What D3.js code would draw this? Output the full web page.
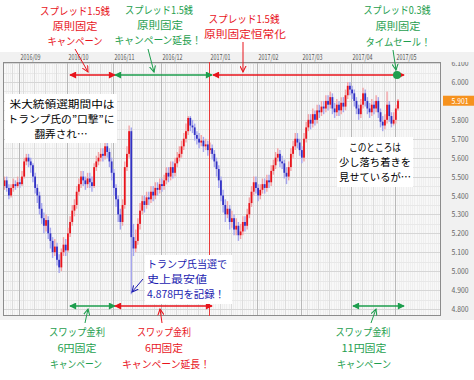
<!DOCTYPE html>
<html>
<head>
<meta charset="utf-8">
<script src="https://cdn.jsdelivr.net/npm/d3@7"></script>
<style>
body { margin: 0; background: #fff; }
svg { display: block; }
text { font-family: "Noto Sans CJK JP", "Noto Sans", sans-serif; }
</style>
</head>
<body>
<div id="chart"></div>
<script>
// daily MXN/JPY candles, 2016/08/23 - 2017/05/02 (open = previous close)
var firstOpen = 5.45;
var closes = [
	5.48, 5.44, 5.40, 5.44, 5.46, 5.45, 5.47, 5.46, 5.50, 5.58,
	5.60, 5.58, 5.56, 5.50, 5.44, 5.40, 5.33, 5.28, 5.24, 5.27,
	5.20, 5.16, 5.10, 5.13, 5.06, 5.02, 5.10, 5.14, 5.11, 5.20,
	5.26, 5.32, 5.35, 5.42, 5.46, 5.50, 5.48, 5.46, 5.49, 5.47,
	5.45, 5.55, 5.58, 5.60, 5.62, 5.61, 5.66, 5.63, 5.58, 5.52,
	5.44, 5.38, 5.30, 5.26, 5.35, 5.55, 5.62, 5.74, 5.18, 5.12,
	5.16, 5.25, 5.32, 5.37, 5.35, 5.39, 5.38, 5.42, 5.40, 5.44,
	5.43, 5.46, 5.45, 5.48, 5.52, 5.50, 5.55, 5.52, 5.57, 5.60,
	5.62, 5.66, 5.70, 5.74, 5.81, 5.77, 5.76, 5.72, 5.70, 5.68,
	5.69, 5.66, 5.67, 5.64, 5.65, 5.62, 5.58, 5.54, 5.48, 5.40,
	5.35, 5.30, 5.33, 5.26, 5.28, 5.22, 5.24, 5.19, 5.21, 5.26,
	5.24, 5.30, 5.36, 5.42, 5.47, 5.44, 5.40, 5.43, 5.46, 5.44,
	5.48, 5.47, 5.53, 5.56, 5.60, 5.62, 5.58, 5.57, 5.52, 5.50,
	5.55, 5.62, 5.66, 5.70, 5.68, 5.64, 5.60, 5.70, 5.76, 5.80,
	5.78, 5.83, 5.80, 5.85, 5.84, 5.87, 5.86, 5.90, 5.88, 5.92,
	5.86, 5.84, 5.88, 5.85, 5.89, 5.87, 5.93, 5.98, 5.96, 5.94,
	5.90, 5.86, 5.83, 5.88, 5.94, 5.90, 5.86, 5.84, 5.88, 5.86,
	5.90, 5.84, 5.79, 5.77, 5.80, 5.88, 5.82, 5.78, 5.80, 5.86,
	5.901
];
var highs = [
	5.50, 5.50, 5.46, 5.46, 5.49, 5.48, 5.50, 5.49, 5.53, 5.60,
	5.62, 5.62, 5.60, 5.57, 5.52, 5.46, 5.42, 5.36, 5.31, 5.30,
	5.29, 5.23, 5.18, 5.17, 5.15, 5.09, 5.12, 5.18, 5.17, 5.23,
	5.29, 5.35, 5.38, 5.45, 5.49, 5.53, 5.53, 5.50, 5.52, 5.52,
	5.50, 5.57, 5.61, 5.63, 5.65, 5.65, 5.68, 5.69, 5.65, 5.60,
	5.54, 5.46, 5.40, 5.33, 5.38, 5.58, 5.66, 5.77, 5.76, 5.25,
	5.22, 5.28, 5.36, 5.40, 5.40, 5.42, 5.42, 5.45, 5.45, 5.47,
	5.47, 5.49, 5.49, 5.51, 5.55, 5.55, 5.58, 5.58, 5.60, 5.63,
	5.66, 5.69, 5.73, 5.78, 5.82, 5.82, 5.80, 5.78, 5.74, 5.73,
	5.72, 5.71, 5.70, 5.69, 5.68, 5.67, 5.64, 5.60, 5.56, 5.50,
	5.43, 5.38, 5.37, 5.35, 5.32, 5.30, 5.28, 5.26, 5.25, 5.29,
	5.29, 5.33, 5.39, 5.45, 5.50, 5.50, 5.46, 5.46, 5.49, 5.49,
	5.51, 5.51, 5.56, 5.59, 5.63, 5.65, 5.64, 5.61, 5.59, 5.55,
	5.58, 5.65, 5.69, 5.73, 5.73, 5.70, 5.66, 5.73, 5.79, 5.83,
	5.83, 5.86, 5.85, 5.88, 5.88, 5.90, 5.90, 5.93, 5.93, 5.95,
	5.94, 5.89, 5.91, 5.90, 5.92, 5.92, 5.96, 6.00, 6.00, 5.98,
	5.96, 5.92, 5.88, 5.91, 5.97, 5.96, 5.92, 5.89, 5.91, 5.90,
	5.93, 5.92, 5.86, 5.82, 5.83, 5.95, 5.90, 5.84, 5.84, 5.88,
	5.91
];
var lows = [
	5.43, 5.42, 5.38, 5.39, 5.42, 5.43, 5.44, 5.44, 5.45, 5.49,
	5.56, 5.55, 5.52, 5.47, 5.41, 5.36, 5.30, 5.25, 5.20, 5.21,
	5.17, 5.12, 5.07, 5.08, 5.03, 4.99, 5.00, 5.08, 5.08, 5.10,
	5.18, 5.24, 5.29, 5.33, 5.40, 5.44, 5.45, 5.43, 5.44, 5.44,
	5.42, 5.44, 5.53, 5.56, 5.58, 5.58, 5.59, 5.60, 5.55, 5.48,
	5.40, 5.34, 5.26, 5.22, 5.24, 5.33, 5.53, 5.60, 4.878, 5.08,
	5.10, 5.14, 5.22, 5.30, 5.31, 5.33, 5.35, 5.36, 5.37, 5.38,
	5.40, 5.41, 5.42, 5.43, 5.46, 5.47, 5.48, 5.49, 5.50, 5.55,
	5.58, 5.60, 5.64, 5.68, 5.72, 5.74, 5.73, 5.69, 5.67, 5.65,
	5.66, 5.63, 5.64, 5.61, 5.62, 5.59, 5.55, 5.50, 5.44, 5.37,
	5.31, 5.26, 5.28, 5.22, 5.23, 5.19, 5.19, 5.16, 5.17, 5.19,
	5.21, 5.22, 5.28, 5.34, 5.40, 5.41, 5.37, 5.38, 5.41, 5.41,
	5.42, 5.44, 5.45, 5.51, 5.54, 5.58, 5.55, 5.54, 5.49, 5.46,
	5.48, 5.53, 5.60, 5.64, 5.65, 5.61, 5.57, 5.58, 5.68, 5.74,
	5.75, 5.76, 5.77, 5.78, 5.81, 5.82, 5.83, 5.84, 5.85, 5.86,
	5.83, 5.81, 5.82, 5.82, 5.83, 5.84, 5.85, 5.91, 5.93, 5.91,
	5.87, 5.83, 5.80, 5.81, 5.86, 5.87, 5.83, 5.81, 5.82, 5.83,
	5.84, 5.81, 5.76, 5.74, 5.75, 5.78, 5.79, 5.76, 5.77, 5.78,
	5.85
];
var firstDay = new Date(2016, 7, 23),
	endDay = new Date(2017, 4, 3);
var yTicks = [4.8, 4.9, 5.0, 5.1, 5.2, 5.3, 5.4, 5.5, 5.6, 5.7, 5.8, 5.9, 6.0, 6.1];
var lastPrice = 5.901;

var RED = '#e8141c', GREEN = '#1e9e4e', BLUE = '#1c1cb0';

var W = 474, H = 380;
var plot = {left: 3, right: 441, top: 62, bottom: 316};

var svg = d3.select('#chart').append('svg')
	.attr('width', W)
	.attr('height', H);

var defs = svg.append('defs');
defs.append('clipPath').attr('id', 'plotClip')
	.append('rect')
	.attr('x', plot.left).attr('y', plot.top)
	.attr('width', plot.right - plot.left).attr('height', plot.bottom - plot.top);
defs.append('clipPath').attr('id', 'axisClip')
	.append('rect')
	.attr('x', plot.right).attr('y', plot.top)
	.attr('width', W - plot.right).attr('height', H - plot.top);

[['r', RED], ['g', GREEN], ['b', BLUE]].forEach(function(c) {
	defs.append('marker')
		.attr('id', 'fill-' + c[0])
		.attr('viewBox', '0 0 8 8')
		.attr('refX', 7).attr('refY', 4)
		.attr('markerWidth', 8).attr('markerHeight', 7)
		.attr('markerUnits', 'userSpaceOnUse')
		.attr('orient', 'auto-start-reverse')
		.append('path')
		.attr('d', 'M0,0 L8,4 L0,8 Z')
		.attr('fill', c[1]);
	defs.append('marker')
		.attr('id', 'open-' + c[0])
		.attr('viewBox', '0 0 8 8')
		.attr('refX', 7).attr('refY', 4)
		.attr('markerWidth', 7).attr('markerHeight', 7)
		.attr('markerUnits', 'userSpaceOnUse')
		.attr('orient', 'auto')
		.append('path')
		.attr('d', 'M0,0.5 L7,4 L0,7.5')
		.attr('fill', 'none')
		.attr('stroke', c[1])
		.attr('stroke-width', 1.2);
});

// trading days (weekdays)
var days = d3.timeDay.range(firstDay, endDay).filter(function(d) { return d.getDay() % 6 !== 0; });
var candles = closes.map(function(c, i) {
	return {day: days[i], open: i ? closes[i - 1] : firstOpen, close: c, high: highs[i], low: lows[i]};
});

var x = d3.scaleLinear()
	.domain([0, candles.length - 1])
	.range([4.5, 398]);
var step = x(1) - x(0);

var y = d3.scaleLinear()
	.domain([4.8, 6.0])
	.range([309, 82]);

// panel
svg.append('rect')
	.attr('x', 0).attr('y', 52)
	.attr('width', W).attr('height', 268)
	.attr('fill', '#f1f1f1');

svg.append('rect')
	.attr('x', plot.left).attr('y', plot.top)
	.attr('width', plot.right - plot.left).attr('height', plot.bottom - plot.top)
	.attr('fill', '#f8f8f8');

var grid = svg.append('g').attr('clip-path', 'url(#plotClip)');

// grid: daily, weekly, monthly verticals
var dayIdx = d3.range(0, 200);
grid.selectAll('.dline')
	.data(dayIdx)
	.enter()
	.append('line')
	.attr('x1', function(i) { return Math.round(x(i) - step / 2) + 0.5; })
	.attr('x2', function(i) { return Math.round(x(i) - step / 2) + 0.5; })
	.attr('y1', plot.top).attr('y2', plot.bottom)
	.attr('stroke', '#efefef');

var hMinor = d3.range(47, 62).map(function(k) { return k / 10 + 0.05; });
grid.selectAll('.hminor')
	.data(hMinor)
	.enter()
	.append('line')
	.attr('x1', plot.left).attr('x2', plot.right)
	.attr('y1', function(d) { return Math.round(y(d)) + 0.5; })
	.attr('y2', function(d) { return Math.round(y(d)) + 0.5; })
	.attr('stroke', '#e8e8e8');

var mondays = candles.filter(function(d) { return d.day.getDay() === 1; });
grid.selectAll('.wline')
	.data(mondays)
	.enter()
	.append('line')
	.attr('x1', function(d) { return Math.round(x(candles.indexOf(d)) - step / 2) + 0.5; })
	.attr('x2', function(d) { return Math.round(x(candles.indexOf(d)) - step / 2) + 0.5; })
	.attr('y1', plot.top).attr('y2', plot.bottom)
	.attr('stroke', '#dcdcdc');

grid.selectAll('.hline')
	.data(yTicks)
	.enter()
	.append('line')
	.attr('x1', plot.left).attr('x2', plot.right)
	.attr('y1', function(d) { return Math.round(y(d)) + 0.5; })
	.attr('y2', function(d) { return Math.round(y(d)) + 0.5; })
	.attr('stroke', '#d6d6d6');

var months = d3.timeMonth.range(new Date(2016, 8, 1), endDay).map(function(m) {
	return {date: m, idx: d3.bisectLeft(days, m)};
});
function monthX(m) { return Math.round(x(m.idx) - step / 2) + 0.5; }

grid.selectAll('.mline')
	.data(months.filter(function(m) { return m.date.getMonth() !== 0; }))
	.enter()
	.append('line')
	.attr('x1', monthX).attr('x2', monthX)
	.attr('y1', plot.top).attr('y2', plot.bottom)
	.attr('stroke', '#b8b8b8');

svg.selectAll('.mlabel')
	.data(months)
	.enter()
	.append('text')
	.attr('x', function(d) { return monthX(d) + 1; })
	.attr('y', 60)
	.attr('font-size', 8)
	.attr('fill', '#555')
	.attr('font-family', 'DejaVu Sans, sans-serif')
	.attr('textLength', 20)
	.attr('lengthAdjust', 'spacingAndGlyphs')
	.text(function(d) { return d3.timeFormat('%Y/%m')(d.date); });

// candles
var cg = grid.append('g');
cg.selectAll('.wick')
	.data(candles)
	.enter()
	.append('line')
	.attr('x1', function(d, i) { return x(i); })
	.attr('x2', function(d, i) { return x(i); })
	.attr('y1', function(d) { return y(d.high); })
	.attr('y2', function(d) { return y(d.low); })
	.attr('stroke', function(d) { return d.close >= d.open ? '#f3a3a6' : '#a6a6ee'; })
	.attr('stroke-width', 1.4);

cg.selectAll('.body')
	.data(candles)
	.enter()
	.append('rect')
	.attr('x', function(d, i) { return x(i) - 0.9; })
	.attr('width', 1.8)
	.attr('y', function(d) { return y(Math.max(d.open, d.close)); })
	.attr('height', function(d) { return Math.max(1, Math.abs(y(d.open) - y(d.close))); })
	.attr('fill', function(d) { return d.close >= d.open ? RED : '#3232c4'; });

// frame
svg.append('rect')
	.attr('x', plot.left + 0.5).attr('y', plot.top + 0.5)
	.attr('width', plot.right - plot.left - 1).attr('height', plot.bottom - plot.top - 1)
	.attr('fill', 'none')
	.attr('stroke', '#8c8c8c');

// y axis labels
var ax = svg.append('g').attr('clip-path', 'url(#axisClip)');
ax.selectAll('.ylabel')
	.data(yTicks)
	.enter()
	.append('text')
	.attr('x', 460)
	.attr('y', function(d) { return y(d) + 3; })
	.attr('text-anchor', 'middle')
	.attr('font-size', 8)
	.attr('fill', '#666')
	.attr('font-family', 'DejaVu Sans, sans-serif')
	.attr('textLength', 17)
	.attr('lengthAdjust', 'spacingAndGlyphs')
	.text(function(d) { return d3.format('.3f')(d); });

svg.append('rect')
	.attr('x', 443).attr('y', y(lastPrice) - 5)
	.attr('width', 31).attr('height', 10)
	.attr('fill', '#f6921e');
svg.append('text')
	.attr('x', 460).attr('y', y(lastPrice) + 3)
	.attr('text-anchor', 'middle')
	.attr('font-size', 8)
	.attr('fill', '#fff')
	.attr('font-family', 'DejaVu Sans, sans-serif')
	.attr('textLength', 17)
	.attr('lengthAdjust', 'spacingAndGlyphs')
	.text(d3.format('.3f')(lastPrice));

// campaign arrows
var ann = svg.append('g');

// 2017/01 marker line (spread fixed permanently from here)
var jan = months.filter(function(m) { return m.date.getMonth() === 0; })[0];
ann.append('rect')
	.attr('x', monthX(jan) - 0.5).attr('y', plot.top)
	.attr('width', 1).attr('height', plot.bottom - plot.top)
	.attr('fill', '#e83a3a');

var spans = [
	{y: 75, x1: 70, x2: 115, c: 'r'},
	{y: 75, x1: 115, x2: 212, c: 'g'},
	{y: 75, x1: 213, x2: 404, c: 'r'},
	{y: 306, x1: 70, x2: 115, c: 'g'},
	{y: 306, x1: 115, x2: 212, c: 'r'},
	{y: 306, x1: 353, x2: 404, c: 'g'}
];
var colorOf = {r: RED, g: GREEN, b: BLUE};
ann.selectAll('.span')
	.data(spans)
	.enter()
	.append('line')
	.attr('x1', function(d) { return d.x1; })
	.attr('x2', function(d) { return d.x2; })
	.attr('y1', function(d) { return d.y; })
	.attr('y2', function(d) { return d.y; })
	.attr('stroke', function(d) { return colorOf[d.c]; })
	.attr('stroke-width', 1.5)
	.attr('marker-start', function(d) { return 'url(#fill-' + d.c + ')'; })
	.attr('marker-end', function(d) { return 'url(#fill-' + d.c + ')'; });

ann.append('circle')
	.attr('cx', 397).attr('cy', 75).attr('r', 4)
	.attr('fill', GREEN);

var pointers = [
	{x1: 75, y1: 49, x2: 88, y2: 72, c: 'r'},
	{x1: 148, y1: 49, x2: 154, y2: 72, c: 'g'},
	{x1: 243, y1: 42, x2: 243, y2: 72, c: 'r'},
	{x1: 393, y1: 50, x2: 396, y2: 70, c: 'g'},
	{x1: 85, y1: 323, x2: 88, y2: 309, c: 'g'},
	{x1: 162, y1: 323, x2: 160, y2: 309, c: 'r'},
	{x1: 371, y1: 323, x2: 376, y2: 309, c: 'g'},
	{x1: 143, y1: 279, x2: 132, y2: 292, c: 'b'}
];
ann.selectAll('.ptr')
	.data(pointers)
	.enter()
	.append('line')
	.attr('x1', function(d) { return d.x1; })
	.attr('y1', function(d) { return d.y1; })
	.attr('x2', function(d) { return d.x2; })
	.attr('y2', function(d) { return d.y2; })
	.attr('stroke', function(d) { return colorOf[d.c]; })
	.attr('stroke-width', 1)
	.attr('marker-end', function(d) { return 'url(#open-' + d.c + ')'; });

// white note boxes
var boxes = [
	{x: 5, y: 94, w: 112, h: 49},
	{x: 145, y: 255, w: 87, h: 49},
	{x: 337, y: 137, w: 76, h: 50}
];
ann.selectAll('.box')
	.data(boxes)
	.enter()
	.append('rect')
	.attr('x', function(d) { return d.x; })
	.attr('y', function(d) { return d.y; })
	.attr('width', function(d) { return d.w; })
	.attr('height', function(d) { return d.h; })
	.attr('fill', '#fff');

var notes = [
	{t: 'スプレッド1.5銭', x: 75, y: 11, w: 70, c: RED},
	{t: '原則固定', x: 75, y: 26, w: 45, c: RED},
	{t: 'キャンペーン', x: 75, y: 41, w: 55, c: RED},
	{t: 'スプレッド1.5銭', x: 159, y: 10, w: 68, c: GREEN},
	{t: '原則固定', x: 160, y: 25, w: 46, c: GREEN},
	{t: 'キャンペーン延長！', x: 158, y: 40, w: 87, c: GREEN},
	{t: 'スプレッド1.5銭', x: 244, y: 19, w: 71, c: RED},
	{t: '原則固定恒常化', x: 245, y: 34, w: 82, c: RED},
	{t: 'スプレッド0.3銭', x: 397, y: 10, w: 67, c: GREEN},
	{t: '原則固定', x: 398, y: 26, w: 45, c: GREEN},
	{t: 'タイムセール！', x: 398, y: 42, w: 65, c: GREEN},
	{t: 'スワップ金利', x: 77, y: 332, w: 56, c: GREEN},
	{t: '6円固定', x: 77, y: 348, w: 39, c: GREEN},
	{t: 'キャンペーン', x: 76, y: 364, w: 52, c: GREEN},
	{t: 'スワップ金利', x: 164, y: 332, w: 54, c: RED},
	{t: '6円固定', x: 164, y: 348, w: 38, c: RED},
	{t: 'キャンペーン延長！', x: 166, y: 364, w: 88, c: RED},
	{t: 'スワップ金利', x: 363, y: 332, w: 55, c: GREEN},
	{t: '11円固定', x: 364, y: 348, w: 45, c: GREEN},
	{t: 'キャンペーン', x: 364, y: 364, w: 54, c: GREEN},
	{t: '米大統領選期間中は', x: 62, y: 104, w: 105, c: '#000'},
	{t: 'トランプ氏の”口撃”に', x: 61, y: 119, w: 107, c: '#000'},
	{t: '翻弄され…', x: 61, y: 134, w: 53, c: '#000'},
	{t: 'このところは', x: 375, y: 147, w: 52, c: '#000'},
	{t: '少し落ち着きを', x: 375, y: 162, w: 72, c: '#000'},
	{t: '見せているが…', x: 375, y: 177, w: 72, c: '#000'},
	{t: 'トランプ氏当選で', x: 187, y: 264, w: 80, c: BLUE},
	{t: '史上最安値', x: 177, y: 279, w: 60, c: BLUE},
	{t: '4.878円を記録！', x: 186, y: 294, w: 78, c: BLUE}
];
ann.selectAll('.note')
	.data(notes)
	.enter()
	.append('text')
	.attr('x', function(d) { return d.x; })
	.attr('y', function(d) { return d.y; })
	.attr('dy', '0.36em')
	.attr('text-anchor', 'middle')
	.attr('font-size', 10.3)
	.attr('fill', function(d) { return d.c; })
	.attr('textLength', function(d) { return d.w; })
	.attr('lengthAdjust', 'spacingAndGlyphs')
	.text(function(d) { return d.t; });
</script>
</body>
</html>
